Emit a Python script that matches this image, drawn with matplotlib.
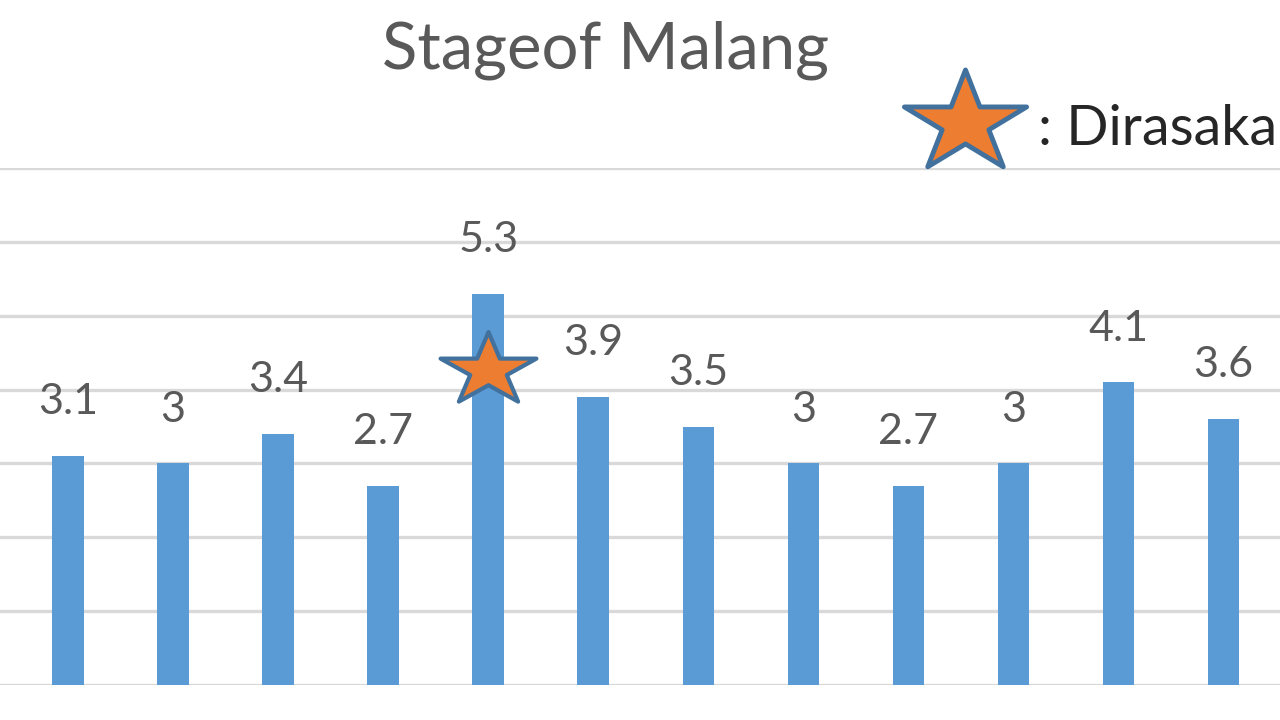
import matplotlib
matplotlib.use("Agg")
import matplotlib.pyplot as plt
import numpy as np
from matplotlib.path import Path

# Data
values = [3.1, 3, 3.4, 2.7, 5.3, 3.9, 3.5, 3, 2.7, 3, 4.1, 3.6]
labels = ["3.1", "3", "3.4", "2.7", "5.3", "3.9", "3.5", "3", "2.7", "3", "4.1", "3.6"]
star_index = 4
star_value = 4.27
y_ticks = [0, 1, 2, 3, 4, 5, 6, 7]

plt.rcParams['font.family'] = ['Lato', 'DejaVu Sans']


def wide_star(xscale):
    # 5-point star, stretched horizontally like the Excel shape
    ang = np.deg2rad(90 + 36 * np.arange(10))
    r = np.where(np.arange(10) % 2 == 0, 1.0, 0.382)
    verts = np.column_stack([r * np.cos(ang) * xscale, r * np.sin(ang)])
    verts = np.vstack([verts, verts[:1]])
    codes = [Path.MOVETO] + [Path.LINETO] * 9 + [Path.CLOSEPOLY]
    return Path(verts, codes)


fig = plt.figure(figsize=(12.8, 7.2), dpi=100)
fig.patch.set_facecolor("white")

# axes span the whole width; the chart is a crop of a larger one
ax = fig.add_axes([0, 35 / 720, 1, (685 - 168) / 720])
x = list(range(len(values)))
ax.set_xlim(-68 / 105.05, (1280 - 68) / 105.05)
ax.set_ylim(0, 7)

for t in y_ticks:
    ax.axhline(t, color="#D9D9D9", lw=2.4, zorder=0)

ax.bar(x, values, width=0.3, color="#5B9BD5", zorder=2)

for xi, v, lab in zip(x, values, labels):
    ax.annotate(lab, (xi, v), xytext=(0, 30), textcoords="offset points",
                ha="center", va="baseline", fontsize=31, color="#595959")

# star marker on the highlighted bar
ax.plot([star_index], [star_value], marker=wide_star(1.31), markersize=69,
        markerfacecolor="#ED7D31", markeredgecolor="#41719C",
        markeredgewidth=3, zorder=3, clip_on=False)

ax.axis("off")

# title (first line is cropped out of the picture)
fig.text(605 / 1280, 1 - 68 / 720, "Stageof Malang", ha="center", va="baseline",
         fontsize=47, color="#595959")

# legend star and text
fig.lines.append(plt.Line2D([965 / 1280], [1 - 123 / 720], marker=wide_star(1.2),
                            markersize=88, markerfacecolor="#ED7D31",
                            markeredgecolor="#41719C", markeredgewidth=3.5,
                            transform=fig.transFigure))
fig.text(1038 / 1280, 1 - 145 / 720, ": Dirasakan", ha="left", va="baseline",
         fontsize=40, color="#262626")

fig.savefig("out.png", dpi=100)
